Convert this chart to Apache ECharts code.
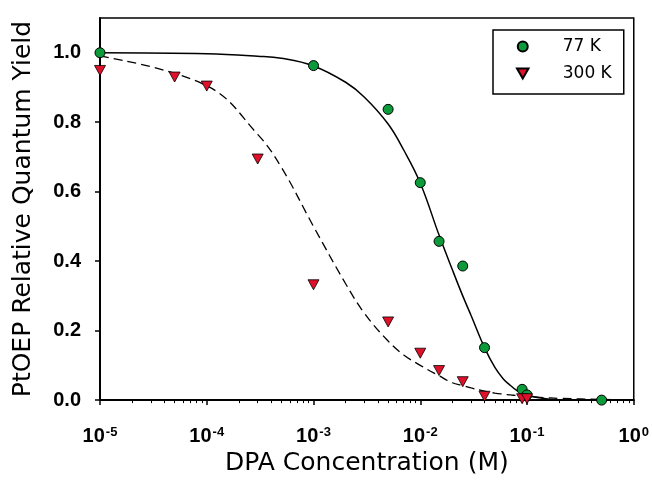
<!DOCTYPE html>
<html>
<head>
<meta charset="utf-8">
<script src="https://cdn.jsdelivr.net/npm/echarts/dist/echarts.min.js"></script>
<style>
    body { margin: 0; background: #fff; }
    #id-div-chart { width: 652px; height: 481px; }
</style>
</head>
<body>
<div id="id-div-chart"></div>
<script>
// 77 K 数据点
const conc77 = [1e-5, 1e-3, 5e-3, 1e-2, 1.5e-2, 2.5e-2, 4e-2, 9e-2, 1e-1, 5e-1]
const yield77 = [1.0, 0.963, 0.837, 0.626, 0.457, 0.386, 0.151, 0.031, 0.015, 0.0]

// 300 K 数据点
const conc300 = [1e-5, 5e-5, 1e-4, 3e-4, 1e-3, 5e-3, 1e-2, 1.5e-2, 2.5e-2, 4e-2, 9e-2, 1e-1]
const yield300 = [0.949, 0.93, 0.904, 0.694, 0.332, 0.225, 0.135, 0.085, 0.053, 0.011, 0.004, 0.004]

// 拟合曲线 (从图上读出来的)
const fitConc = [1e-5, 1e-4, 3e-4, 5e-4, 1e-3, 2e-3, 3e-3, 5e-3, 7e-3, 1e-2, 1.5e-2, 2e-2, 2.5e-2, 3e-2, 4e-2, 5e-2, 6e-2, 7e-2, 8e-2, 1e-1, 1.5e-1, 2e-1, 5e-1, 1]
const fit77 = [1.0, 0.997, 0.99, 0.984, 0.962, 0.915, 0.872, 0.795, 0.72, 0.625, 0.475, 0.375, 0.3, 0.243, 0.151, 0.094, 0.061, 0.042, 0.028, 0.014, 0.004, 0.001, 0, 0]
const fit300 = [0.99, 0.905, 0.765, 0.67, 0.5, 0.335, 0.25, 0.17, 0.13, 0.1, 0.07, 0.05, 0.042, 0.035, 0.026, 0.02, 0.017, 0.015, 0.013, 0.01, 0.007, 0.005, 0.002, 0.001]

// 刻度
const yTicks = [0, 0.2, 0.4, 0.6, 0.8, 1.0]
const xTicks = [1e-5, 1e-4, 1e-3, 1e-2, 1e-1, 1]
const xMinorTicks = [2e-5, 3e-5, 4e-5, 5e-5, 6e-5, 7e-5, 8e-5, 9e-5,
    2e-4, 3e-4, 4e-4, 5e-4, 6e-4, 7e-4, 8e-4, 9e-4,
    2e-3, 3e-3, 4e-3, 5e-3, 6e-3, 7e-3, 8e-3, 9e-3,
    2e-2, 3e-2, 4e-2, 5e-2, 6e-2, 7e-2, 8e-2, 9e-2,
    0.2, 0.3, 0.4, 0.5, 0.6, 0.7, 0.8, 0.9]

const fontMain = 'Arial, "Liberation Sans", sans-serif'
const fontTitle = '"DejaVu Sans", sans-serif'

const zip = function (xs, ys) {
    let r = []
    for (let i = 0; i < xs.length; i++) {
        r.push([xs[i], ys[i]])
    }
    return r
}

const triangleDown = 'path://M0,0 L10,0 L5,8.7 Z'

const buildOption = function () {
    let option = {
        animation: false,
        grid: {
            left: 100,
            right: 18,
            top: 18,
            bottom: 78,
            show: true,
            borderColor: '#000',
            borderWidth: 1.5,
        },
        legend: {
            orient: 'vertical',
            left: 493,
            top: 30,
            padding: [8, 12, 12, 23],
            itemWidth: 50,
            itemHeight: 10,
            itemGap: 10,
            borderColor: '#000',
            borderWidth: 1.5,
            data: ['77 K', '300 K'],
            textStyle: {
                fontFamily: fontTitle,
                fontSize: 17,
                color: '#000',
                padding: [0, 0, 0, 10],
            },
        },
        xAxis: [
            {
                type: 'log',
                logBase: 10,
                min: 1e-5,
                max: 1,
                name: 'DPA Concentration (M)',
                nameLocation: 'middle',
                nameGap: 50,
                nameTextStyle: {
                    fontFamily: fontTitle,
                    fontSize: 25,
                    color: '#000',
                },
                axisLine: { lineStyle: { color: '#000', width: 2 } },
                axisTick: {
                    inside: false,
                    length: 5,
                    customValues: xTicks,
                    lineStyle: { color: '#000', width: 1.5 },
                },
                splitLine: { show: false },
                axisLabel: {
                    margin: 26,
                    customValues: xTicks,
                    fontFamily: fontMain,
                    fontSize: 20,
                    fontWeight: 'bold',
                    color: '#000',
                    formatter: v => `{base|10}{sup|${Math.round(Math.log10(v))}}`,
                    rich: {
                        base: { fontFamily: fontMain, fontSize: 20, fontWeight: 'bold', color: '#000' },
                        sup: { fontFamily: fontMain, fontSize: 13, fontWeight: 'bold', color: '#000', verticalAlign: 'top', padding: [0, 0, 0, 1] },
                    },
                },
            },
            {
                // 次刻度
                type: 'log',
                logBase: 10,
                min: 1e-5,
                max: 1,
                position: 'bottom',
                offset: 0,
                axisLine: { show: false },
                axisLabel: { show: false },
                splitLine: { show: false },
                axisTick: {
                    length: 3,
                    customValues: xMinorTicks,
                    lineStyle: { color: '#000', width: 1 },
                },
            },
        ],
        yAxis: {
            type: 'value',
            min: 0,
            max: 1.1,
            name: 'PtOEP Relative Quantum Yield',
            nameLocation: 'middle',
            nameGap: 64,
            nameTextStyle: {
                fontFamily: fontTitle,
                fontSize: 25,
                color: '#000',
            },
            axisLine: { show: true, lineStyle: { color: '#000', width: 2 } },
            axisTick: {
                show: true,
                length: 5,
                customValues: yTicks,
                lineStyle: { color: '#000', width: 1.5 },
            },
            splitLine: { show: false },
            axisLabel: {
                margin: 19,
                customValues: yTicks,
                formatter: v => v.toFixed(1),
                fontFamily: fontMain,
                fontSize: 20,
                fontWeight: 'bold',
                color: '#000',
            },
        },
        series: [
            {
                name: 'fit77',
                type: 'line',
                data: zip(fitConc, fit77),
                showSymbol: false,
                smooth: 0.4,
                lineStyle: { color: '#000', width: 1.5 },
                z: 1,
                silent: true,
            },
            {
                name: 'fit300',
                type: 'line',
                data: zip(fitConc, fit300),
                showSymbol: false,
                smooth: 0.4,
                lineStyle: { color: '#000', width: 1.3, type: [9, 5] },
                z: 1,
                silent: true,
            },
            {
                name: '77 K',
                type: 'scatter',
                data: zip(conc77, yield77),
                symbol: 'circle',
                symbolSize: 10,
                itemStyle: { color: '#0c9a3a', borderColor: '#000', borderWidth: 1, opacity: 1 },
                z: 3,
            },
            {
                name: '300 K',
                type: 'scatter',
                data: zip(conc300, yield300),
                symbol: triangleDown,
                symbolSize: [11, 10],
                itemStyle: { color: '#e0102b', borderColor: '#000', borderWidth: 0.8, opacity: 1 },
                z: 3,
            },
        ],
    }
    return option
}

const main = function () {
    let chart = echarts.init(document.querySelector('#id-div-chart'), null, { renderer: 'canvas' })
    chart.setOption(buildOption())
}

main()
</script>
</body>
</html>
